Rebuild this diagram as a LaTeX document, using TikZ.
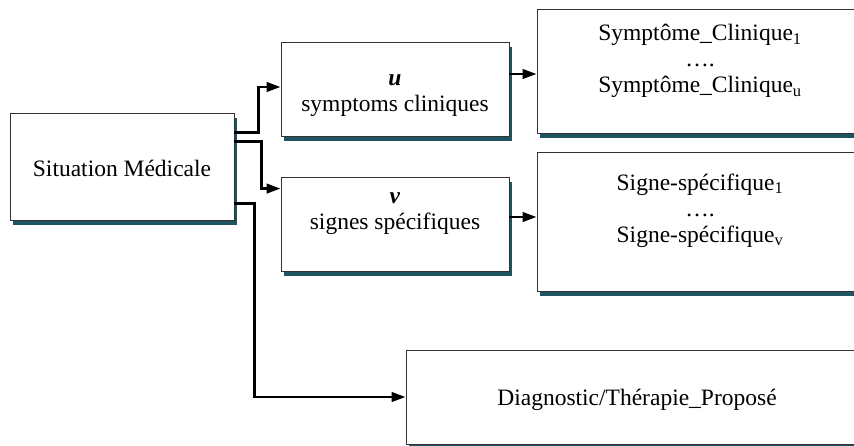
\documentclass[tikz,border=0pt]{standalone}
\usepackage{fontspec}
\setmainfont{Liberation Serif}
\usetikzlibrary{arrows.meta,calc}
\definecolor{shadowc}{RGB}{31,84,99}
\begin{document}
\begin{tikzpicture}[x=1pt,y=-1pt,
  box/.style={draw=black!80, line width=0.9pt, fill=white, inner sep=0pt,
    preaction={fill=shadowc, transform canvas={shift={(3pt,-5pt)}}}},
  txt/.style={inner sep=0pt, align=center, font=\fontsize{23.5}{26}\selectfont},
  conn/.style={line width=2.6pt, -{Triangle[length=14pt,width=9.5pt]}}]
\useasboundingbox (0,0) rectangle (854,445);
\clip (0,0) rectangle (854,445);
% boxes
\node[box, minimum width=224pt, minimum height=107pt] (sit) at (122,166.5) {};
\node[box, minimum width=228pt, minimum height=94pt] (ubox) at (395,89) {};
\node[box, minimum width=228pt, minimum height=94pt] (vbox) at (395,224) {};
\node[box, minimum width=326pt, minimum height=124pt] (sbox) at (700,71) {};
\node[box, minimum width=326pt, minimum height=139pt] (gbox) at (700,221.5) {};
\node[box, minimum width=462pt, minimum height=94pt] (dbox) at (637,397) {};
% texts
\node[txt] (sitt) at (122,168) {Situation Médicale};
\node[txt] (ut) at (395,95.5) {\textbf{\textit{u}}\\symptoms cliniques};
\node[txt] (vt) at (395,214) {\textbf{\textit{v}}\\signes spécifiques};
\node[txt] (st) at (700,61) {Symptôme\_Clinique\textsubscript{1}\\….\\Symptôme\_Clinique\textsubscript{u}};
\node[txt] (gt) at (700,210.5) {Signe-spécifique\textsubscript{1}\\….\\Signe-spécifique\textsubscript{v}};
\node[txt] (dt) at (637,400) {Diagnostic/Thérapie\_Proposé};
% connectors
\draw[conn] ($(sit.north east)+(0,20)$) -- ++(24,0) |- ($(ubox.west)+(0,-2)$);
\draw[conn] ($(sit.north east)+(0,29)$) -- ++(27,0) |- ($(vbox.north west)+(0,12)$);
\draw[conn] ($(sit.north east)+(0,91)$) -- ++(20,0) |- (dbox.west);
\coordinate (a1) at ($(ubox.east)+(0,-15)$);
\draw[conn] (a1) -- (a1 -| sbox.west);
\coordinate (a2) at ($(vbox.east)+(0,-7)$);
\draw[conn] (a2) -- (a2 -| gbox.west);
\end{tikzpicture}
\end{document}
